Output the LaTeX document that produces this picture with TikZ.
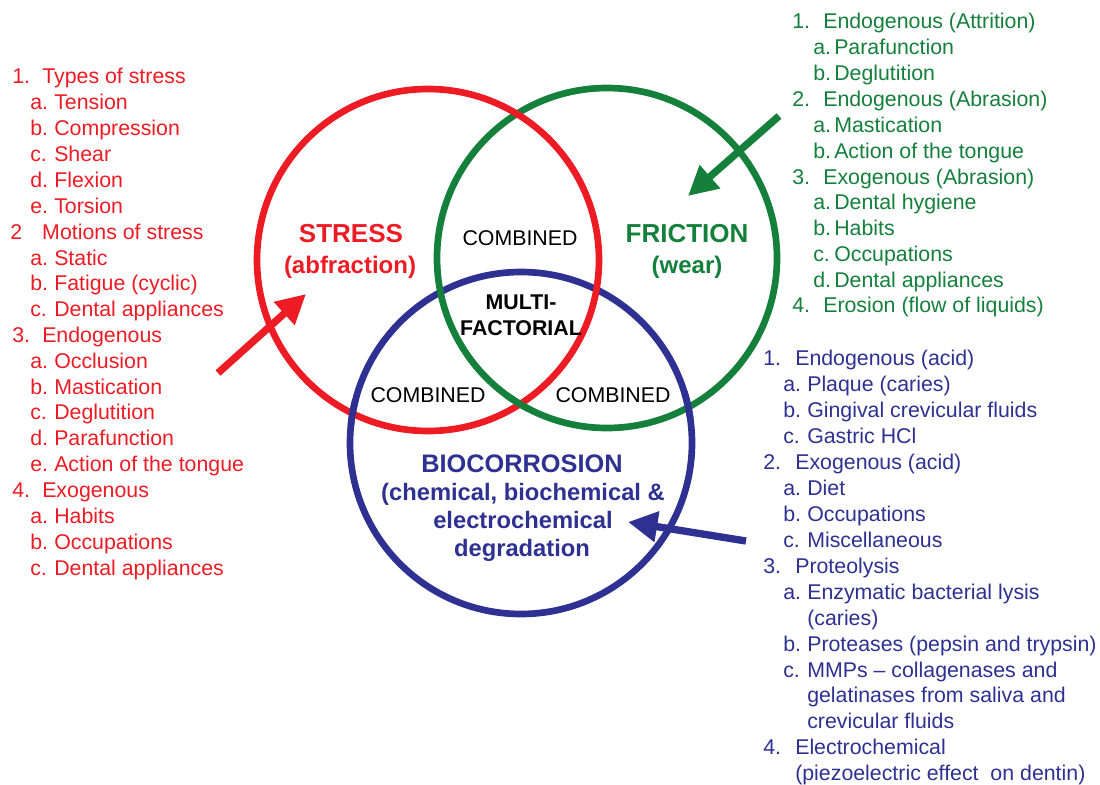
\documentclass[tikz,border=0pt]{standalone}
\usepackage{fontspec}
\setmainfont{Liberation Sans}
\usetikzlibrary{arrows.meta}
\definecolor{cred}{RGB}{237,28,36}
\definecolor{cgreen}{RGB}{20,128,60}
\definecolor{cblue}{RGB}{46,49,146}
\newcommand\mainR[2]{\makebox[22.5pt][l]{#1}#2}
\newcommand\subR[2]{\makebox[18pt][l]{#1}#2}
\newcommand\mainG[2]{\makebox[23.25pt][l]{#1}#2}
\newcommand\subG[2]{\makebox[15.75pt][l]{#1}#2}
\newcommand\mainB[2]{\makebox[24pt][l]{#1}#2}
\newcommand\subB[2]{\makebox[18pt][l]{#1}#2}
\begin{document}
\begin{tikzpicture}[x=0.75pt,y=-0.75pt,
  ring/.style={line width=5pt},
  listtxt/.style={anchor=west, inner sep=0pt, text height=11.45pt, text depth=0pt,
    font=\fontsize{16}{19}\selectfont},
  rt/.style={listtxt, text=cred},
  gt/.style={listtxt, text=cgreen},
  bt/.style={listtxt, text=cblue},
  head/.style={inner sep=0pt, text height=14pt, text depth=0pt,
    font=\fontsize{19.5}{23}\selectfont\bfseries},
  subhead/.style={inner sep=0pt, text height=12.9pt, text depth=0pt,
    font=\fontsize{18}{22}\selectfont\bfseries},
  comb/.style={inner sep=0pt, text height=11.5pt, text depth=0pt,
    font=\fontsize{16}{19}\selectfont},
  multi/.style={inner sep=0pt, text height=11.5pt, text depth=0pt,
    font=\fontsize{16}{19}\selectfont\bfseries},
  biohead/.style={inner sep=0pt, text height=13.6pt, text depth=0pt, text=cblue,
    font=\fontsize{19}{23}\selectfont\bfseries},
  biosub/.style={inner sep=0pt, text height=12.7pt, text depth=0pt, text=cblue,
    font=\fontsize{17.8}{22}\selectfont\bfseries},
  ptr/.style={line width=5.5pt, -{Triangle[length=22pt,width=22pt]}}
]
\useasboundingbox (0,0) rectangle (1100,785);
\fill[white] (0,0) rectangle (1100,785);

% circle centres
\coordinate (R) at (428,260);
\coordinate (G) at (607,258);
\coordinate (B) at (521,443);

\draw[ring, cblue] (B) circle (171);
\draw[ring, cgreen] (G) circle (170);
\draw[ring, cred] (R) circle (171);
% weave corrections
\begin{scope}
  \clip (517,403) circle (13);
  \draw[ring, cgreen] (G) circle (170);
\end{scope}
\begin{scope}
  \clip (353,413) circle (13);
  \draw[ring, cblue] (B) circle (171);
\end{scope}
\begin{scope}
  \clip (692,404) circle (14);
  \draw[ring, cblue] (B) circle (171);
\end{scope}

% circle labels
\node[head, text=cred] (stress) at (351,233) {STRESS};
\node[subhead, text=cred] (abfr) at (350,265) {(abfraction)};
\node[head, text=cgreen] (fric) at (687,233) {FRICTION};
\node[subhead, text=cgreen] (wear) at (687,265) {(wear)};
\node[comb] (combT) at (520,238) {COMBINED};
\node[multi] (mult1) at (521,302) {MULTI-};
\node[multi] (mult2) at (521,328) {FACTORIAL};
\node[comb] (combL) at (428,395) {COMBINED};
\node[comb] (combR) at (613,395) {COMBINED};
\node[biohead] (bio) at (522,463) {BIOCORROSION};
\node[biosub] (bio1) at (523,492) {(chemical, biochemical \&};
\node[biosub] (bio2) at (523,520) {electrochemical};
\node[biosub] (bio3) at (522,548) {degradation};

% arrows
\coordinate (rtail) at (218,373);
\coordinate (rtip) at (306,294);
\coordinate (gtail) at (779,116);
\coordinate (gtip) at (688,196);
\coordinate (btail) at (746,541);
\coordinate (btip) at (628,522);
\draw[ptr, cred] (rtail) -- (rtip);
\draw[ptr, cgreen] (gtail) -- (gtip);
\draw[ptr, cblue] (btail) -- (btip);

% red list
\node[rt] (r1) at (12,76) {\mainR{1.}{Types of stress}};
\node[rt] (r2) at (30,102) {\subR{a.}{Tension}};
\node[rt] (r3) at (30,128) {\subR{b.}{Compression}};
\node[rt] (r4) at (30,154) {\subR{c.}{Shear}};
\node[rt] (r5) at (30,180) {\subR{d.}{Flexion}};
\node[rt] (r6) at (30,206) {\subR{e.}{Torsion}};
\node[rt] (r7) at (10,232) {\makebox[24pt][l]{2}Motions of stress};
\node[rt] (r8) at (30,258) {\subR{a.}{Static}};
\node[rt] (r9) at (30,283) {\subR{b.}{Fatigue (cyclic)}};
\node[rt] (r10) at (30,309) {\subR{c.}{Dental appliances}};
\node[rt] (r11) at (12,335) {\mainR{3.}{Endogenous}};
\node[rt] (r12) at (30,361) {\subR{a.}{Occlusion}};
\node[rt] (r13) at (30,387) {\subR{b.}{Mastication}};
\node[rt] (r14) at (30,412) {\subR{c.}{Deglutition}};
\node[rt] (r15) at (30,438) {\subR{d.}{Parafunction}};
\node[rt] (r16) at (30,464) {\subR{e.}{Action of the tongue}};
\node[rt] (r17) at (12,490) {\mainR{4.}{Exogenous}};
\node[rt] (r18) at (30,516) {\subR{a.}{Habits}};
\node[rt] (r19) at (30,542) {\subR{b.}{Occupations}};
\node[rt] (r20) at (30,568) {\subR{c.}{Dental appliances}};

% green list
\node[gt] (g1) at (792,21) {\mainG{1.}{Endogenous (Attrition)}};
\node[gt] (g2) at (813,47) {\subG{a.}{Parafunction}};
\node[gt] (g3) at (813,73) {\subG{b.}{Deglutition}};
\node[gt] (g4) at (792,99) {\mainG{2.}{Endogenous (Abrasion)}};
\node[gt] (g5) at (813,125) {\subG{a.}{Mastication}};
\node[gt] (g6) at (813,151) {\subG{b.}{Action of the tongue}};
\node[gt] (g7) at (792,177) {\mainG{3.}{Exogenous (Abrasion)}};
\node[gt] (g8) at (813,202) {\subG{a.}{Dental hygiene}};
\node[gt] (g9) at (813,228) {\subG{b.}{Habits}};
\node[gt] (g10) at (813,254) {\subG{c.}{Occupations}};
\node[gt] (g11) at (813,280) {\subG{d.}{Dental appliances}};
\node[gt] (g12) at (792,305) {\mainG{4.}{Erosion (flow of liquids)}};

% blue list
\node[bt] (b1) at (763,358) {\mainB{1.}{Endogenous (acid)}};
\node[bt] (b2) at (783,384) {\subB{a.}{Plaque (caries)}};
\node[bt] (b3) at (783,410) {\subB{b.}{Gingival crevicular fluids}};
\node[bt] (b4) at (783,436) {\subB{c.}{Gastric HCl}};
\node[bt] (b5) at (763,462) {\mainB{2.}{Exogenous (acid)}};
\node[bt] (b6) at (783,488) {\subB{a.}{Diet}};
\node[bt] (b7) at (783,514) {\subB{b.}{Occupations}};
\node[bt] (b8) at (783,540) {\subB{c.}{Miscellaneous}};
\node[bt] (b9) at (763,566) {\mainB{3.}{Proteolysis}};
\node[bt] (b10) at (783,592) {\subB{a.}{Enzymatic bacterial lysis}};
\node[bt] (b11) at (807,618) {(caries)};
\node[bt] (b12) at (783,644) {\subB{b.}{Proteases (pepsin and trypsin)}};
\node[bt] (b13) at (783,670) {\subB{c.}{MMPs -- collagenases and}};
\node[bt] (b14) at (807,695) {gelatinases from saliva and};
\node[bt] (b15) at (807,721) {crevicular fluids};
\node[bt] (b16) at (763,747) {\mainB{4.}{Electrochemical}};
\node[bt] (b17) at (795,773) {(piezoelectric effect\ \ on dentin)};
\end{tikzpicture}
\end{document}
